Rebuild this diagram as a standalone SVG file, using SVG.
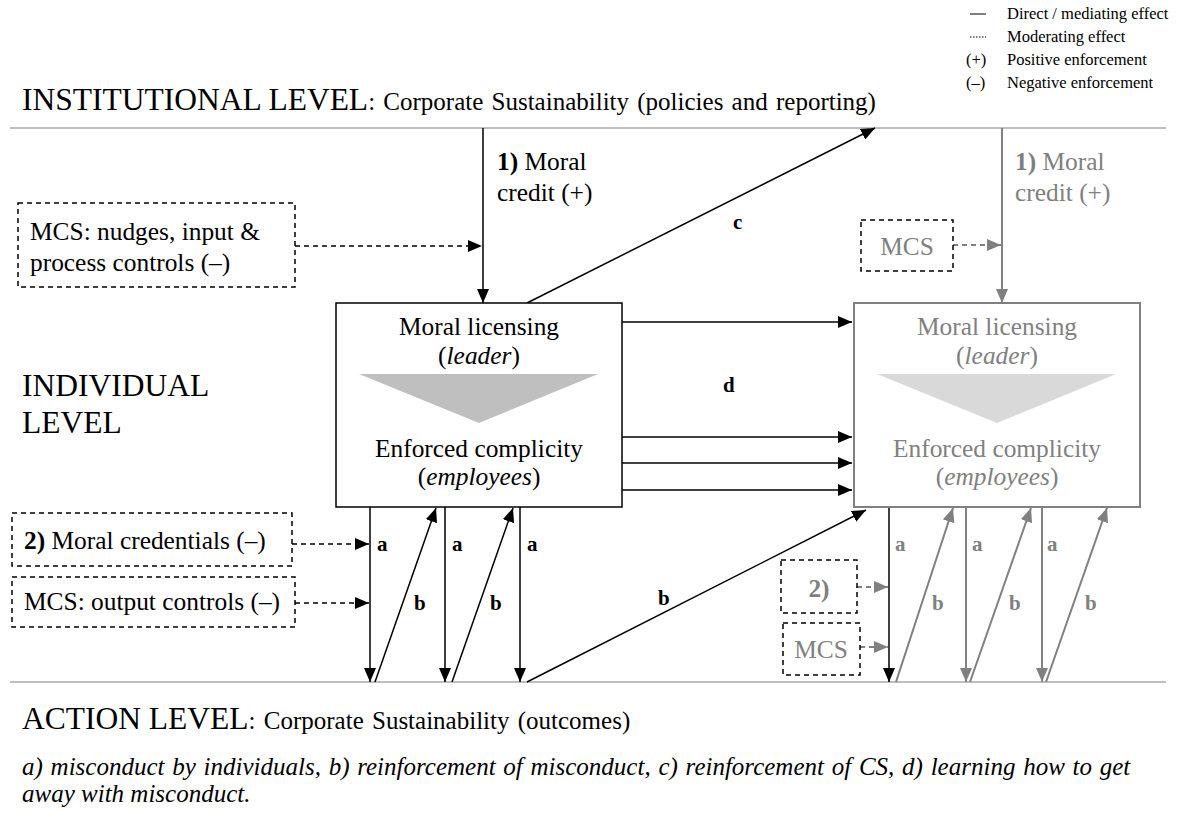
<svg xmlns="http://www.w3.org/2000/svg" width="1180" height="813" viewBox="0 0 1180 813">
<style>
text{font-family:"Liberation Serif","Times New Roman",serif;fill:#000}
.g{fill:#808080}
.big{font-size:31.5px}
.sub{font-size:25px;word-spacing:2px}
.lbl{font-size:25.4px}
.let{font-size:21px;font-weight:bold}
.leg{font-size:16.5px}
.cap{font-size:25px;font-style:italic}
.rule{stroke:#7f7f7f;stroke-width:1.2;fill:none}
.k{stroke:#000;stroke-width:1.5;fill:none}
.kg{stroke:#808080;stroke-width:2;fill:none}
.dash{stroke:#000;stroke-width:1.5;fill:none;stroke-dasharray:5 4}
.dashg{stroke:#808080;stroke-width:1.8;fill:none;stroke-dasharray:5 4}
.box{fill:#fff;stroke:#000;stroke-width:1.5}
.boxg{fill:#fff;stroke:#808080;stroke-width:2}
.dbox{fill:#fff;stroke:#000;stroke-width:1.5;stroke-dasharray:5 4}
</style>
<defs>
<marker id="ah" markerUnits="userSpaceOnUse" markerWidth="14" markerHeight="12" refX="14" refY="6" orient="auto"><path d="M0,0 L14,6 L0,12 Z" fill="#000"/></marker>
<marker id="ahg" markerUnits="userSpaceOnUse" markerWidth="14" markerHeight="12" refX="14" refY="6" orient="auto"><path d="M0,0 L14,6 L0,12 Z" fill="#808080"/></marker>
</defs>

<!-- legend -->
<g id="legend">
<line x1="970" y1="14" x2="986" y2="14" stroke="#000" stroke-width="1"/>
<line x1="970" y1="37" x2="986" y2="37" stroke="#000" stroke-width="1" stroke-dasharray="1.5 1.5"/>
<text class="leg" x="966" y="65">(+)</text>
<text class="leg" x="966" y="88">(–)</text>
<text class="leg" x="1007" y="19">Direct / mediating effect</text>
<text class="leg" x="1007" y="42">Moderating effect</text>
<text class="leg" x="1007" y="65">Positive enforcement</text>
<text class="leg" x="1007" y="88">Negative enforcement</text>
</g>

<!-- level titles and rules -->
<g id="levels">
<text x="22" y="110"><tspan class="big">INSTITUTIONAL LEVEL</tspan><tspan class="sub">: Corporate Sustainability (policies and reporting)</tspan></text>
<line class="rule" x1="10" y1="128" x2="1166" y2="128"/>
<text class="big" x="22" y="396">INDIVIDUAL</text>
<text class="big" x="22" y="433">LEVEL</text>
<line class="rule" x1="10" y1="682" x2="1166" y2="682"/>
<text x="22" y="729"><tspan class="big">ACTION LEVEL</tspan><tspan class="sub">: Corporate Sustainability (outcomes)</tspan></text>
<text class="cap" x="22" y="775" word-spacing="1.5">a) misconduct by individuals, b) reinforcement of misconduct, c) reinforcement of CS, d) learning how to get</text>
<text class="cap" x="22" y="802">away with misconduct.</text>
</g>

<!-- connectors -->
<g id="connectors">
<path class="k" d="M483,128 V303" marker-end="url(#ah)"/>
<path class="k" d="M527,303 L875,128" marker-end="url(#ah)"/>
<path class="dash" d="M295,246 H482" marker-end="url(#ah)"/>
<path class="k" d="M622,322 H852" marker-end="url(#ah)"/>
<path class="k" d="M622,437 H852" marker-end="url(#ah)"/>
<path class="k" d="M622,463 H852" marker-end="url(#ah)"/>
<path class="k" d="M622,490 H852" marker-end="url(#ah)"/>
<path class="k" d="M370,507 V682" marker-end="url(#ah)"/>
<path class="k" d="M445,507 V682" marker-end="url(#ah)"/>
<path class="k" d="M520,507 V682" marker-end="url(#ah)"/>
<path class="k" d="M375,682 L436,508" marker-end="url(#ah)"/>
<path class="k" d="M452,682 L513,508" marker-end="url(#ah)"/>
<path class="k" d="M527,682 L866,510" marker-end="url(#ah)"/>
<path class="dash" d="M292,544 H369" marker-end="url(#ah)"/>
<path class="dash" d="M295,603 H369" marker-end="url(#ah)"/>
<path class="k" d="M889,507 V682" marker-end="url(#ah)"/>
<path class="kg" d="M1002,128 V303" marker-end="url(#ahg)"/>
<path class="dashg" d="M953,245 H1001" marker-end="url(#ahg)"/>
<path class="kg" d="M966,507 V682" marker-end="url(#ahg)"/>
<path class="kg" d="M1042,507 V682" marker-end="url(#ahg)"/>
<path class="kg" d="M896,682 L953,508" marker-end="url(#ahg)"/>
<path class="kg" d="M970,682 L1031,508" marker-end="url(#ahg)"/>
<path class="kg" d="M1046,682 L1107,508" marker-end="url(#ahg)"/>
<path class="dashg" d="M857,587 H888" marker-end="url(#ahg)"/>
<path class="dashg" d="M860,647 H888" marker-end="url(#ahg)"/>
</g>

<!-- connector labels -->
<g id="labels">
<text class="lbl" x="497" y="170"><tspan font-weight="bold">1)</tspan> Moral</text>
<text class="lbl" x="497" y="201">credit (+)</text>
<text class="lbl g" x="1015" y="170"><tspan font-weight="bold">1)</tspan> Moral</text>
<text class="lbl g" x="1015" y="201">credit (+)</text>
<text class="let" x="733" y="229">c</text>
<text class="let" x="723" y="392">d</text>
<text class="let" x="377" y="551">a</text>
<text class="let" x="452" y="551">a</text>
<text class="let" x="527" y="551">a</text>
<text class="let" x="414" y="610">b</text>
<text class="let" x="490" y="610">b</text>
<text class="let" x="658" y="605">b</text>
<text class="let g" x="895" y="551">a</text>
<text class="let g" x="972" y="551">a</text>
<text class="let g" x="1047" y="551">a</text>
<text class="let g" x="932" y="610">b</text>
<text class="let g" x="1009" y="610">b</text>
<text class="let g" x="1085" y="610">b</text>
</g>

<g id="mcs-nudges">
<rect class="dbox" x="18" y="203" width="277" height="84"/>
<text class="lbl" x="30" y="240">MCS: nudges, input &amp;</text>
<text class="lbl" x="30" y="271">process controls (–)</text>
</g>
<g id="moral-credentials">
<rect class="dbox" x="12" y="513" width="280" height="53"/>
<text class="lbl" x="24" y="549"><tspan font-weight="bold">2)</tspan> Moral credentials (–)</text>
</g>
<g id="mcs-output">
<rect class="dbox" x="12" y="577" width="283" height="50"/>
<text class="lbl" x="24" y="610">MCS: output controls (–)</text>
</g>
<g id="mcs-top-right">
<rect class="dbox" x="861" y="220" width="92" height="51"/>
<text class="lbl g" x="907" y="255" text-anchor="middle">MCS</text>
</g>
<g id="credentials-right">
<rect class="dbox" x="781" y="560" width="76" height="53"/>
<text class="lbl g" x="819" y="597" text-anchor="middle" font-weight="bold">2)</text>
</g>
<g id="mcs-bottom-right">
<rect class="dbox" x="783" y="623" width="77" height="52"/>
<text class="lbl g" x="821" y="658" text-anchor="middle">MCS</text>
</g>

<g id="box-left">
<rect class="box" x="336" y="303" width="286" height="204"/>
<text class="lbl" x="479" y="335" text-anchor="middle">Moral licensing</text>
<text class="lbl" x="479" y="364" text-anchor="middle">(<tspan font-style="italic">leader</tspan>)</text>
<polygon points="359,374 598,374 479,423" fill="#bfbfbf"/>
<text class="lbl" x="479" y="457" text-anchor="middle">Enforced complicity</text>
<text class="lbl" x="479" y="485" text-anchor="middle">(<tspan font-style="italic">employees</tspan>)</text>
</g>
<g id="box-right">
<rect class="boxg" x="854" y="303" width="286" height="204"/>
<text class="lbl g" x="997" y="335" text-anchor="middle">Moral licensing</text>
<text class="lbl g" x="997" y="364" text-anchor="middle">(<tspan font-style="italic">leader</tspan>)</text>
<polygon points="877,374 1116,374 997,423" fill="#d9d9d9"/>
<text class="lbl g" x="997" y="457" text-anchor="middle">Enforced complicity</text>
<text class="lbl g" x="997" y="485" text-anchor="middle">(<tspan font-style="italic">employees</tspan>)</text>
</g>
</svg>
